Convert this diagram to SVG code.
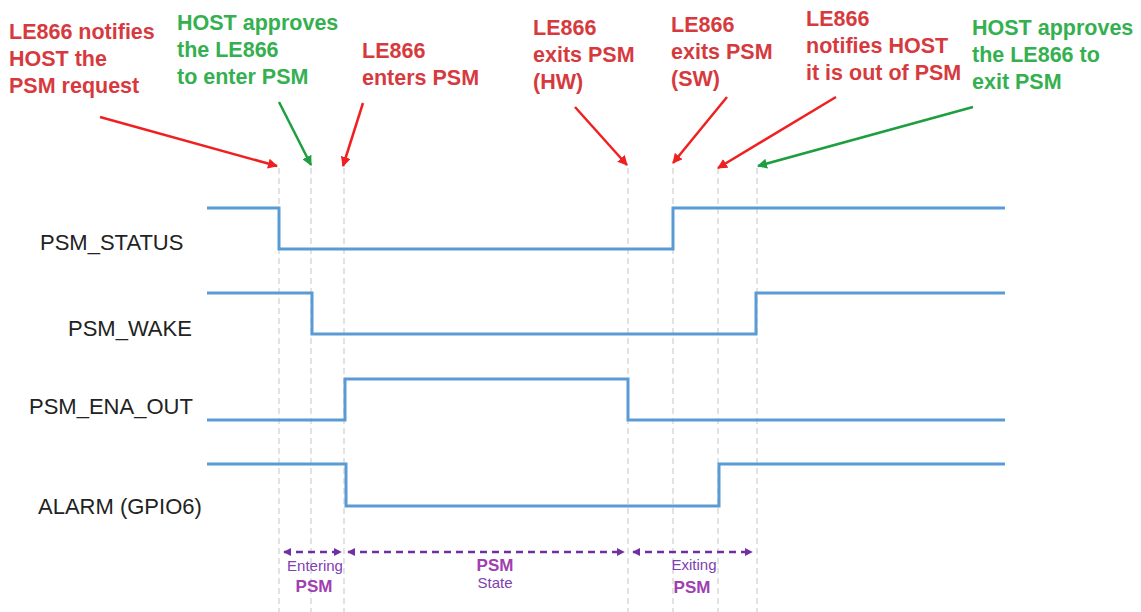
<svg xmlns="http://www.w3.org/2000/svg" width="1141" height="612" viewBox="0 0 1141 612">
<style>
.ann{font-family:"Liberation Sans",Arial,sans-serif;font-weight:bold;font-size:21.5px}
.red{fill:#D63A3E}
.grn{fill:#35B050}
.sig{font-family:"Liberation Sans",Arial,sans-serif;font-size:22px;fill:#222}
.wave{fill:none;stroke:#5B9BD5;stroke-width:3;stroke-linejoin:miter}
.grid{stroke:#CFCFCF;stroke-width:1.2;stroke-dasharray:6 4}
.ra{stroke:#F02020;stroke-width:2.5;marker-end:url(#ahr)}
.ga{stroke:#1E9E40;stroke-width:2.5;marker-end:url(#ahg)}
.ph{stroke:#7030A0;stroke-width:2.5;stroke-dasharray:7 5;marker-start:url(#ahp);marker-end:url(#ahp)}
.ptxt{font-family:"Liberation Sans",Arial,sans-serif;font-size:15px;fill:#8040B0;text-anchor:middle}
.pbig{font-family:"Liberation Sans",Arial,sans-serif;font-size:17px;font-weight:bold;fill:#A040B0;text-anchor:middle}
</style>
<defs>
<marker id="ahr" viewBox="0 0 10 10" refX="9" refY="5" markerWidth="4" markerHeight="4" orient="auto" markerUnits="strokeWidth"><path d="M0,0 L10,5 L0,10 z" fill="#F02020"/></marker>
<marker id="ahg" viewBox="0 0 10 10" refX="9" refY="5" markerWidth="4" markerHeight="4" orient="auto" markerUnits="strokeWidth"><path d="M0,0 L10,5 L0,10 z" fill="#1E9E40"/></marker>
<marker id="ahp" viewBox="0 0 10 10" refX="9" refY="5" markerWidth="3.2" markerHeight="3.2" orient="auto-start-reverse" markerUnits="strokeWidth"><path d="M0,0 L10,5 L0,10 z" fill="#7030A0"/></marker>
</defs>
<rect width="1141" height="612" fill="#fff"/>

<g id="gridlines">
<line class="grid" x1="279" y1="168" x2="279" y2="612"/>
<line class="grid" x1="311" y1="168" x2="311" y2="612"/>
<line class="grid" x1="344" y1="168" x2="344" y2="612"/>
<line class="grid" x1="628" y1="168" x2="628" y2="612"/>
<line class="grid" x1="673" y1="168" x2="673" y2="612"/>
<line class="grid" x1="718" y1="168" x2="718" y2="612"/>
<line class="grid" x1="757" y1="168" x2="757" y2="612"/>
</g>

<g id="sig-psm-status">
<text class="sig" x="40" y="250">PSM_STATUS</text>
<path class="wave" d="M207,208 H279 V249 H673 V208 H1005"/>
</g>
<g id="sig-psm-wake">
<text class="sig" x="68" y="336">PSM_WAKE</text>
<path class="wave" d="M207,293 H312 V334 H756 V293 H1005"/>
</g>
<g id="sig-psm-ena-out">
<text class="sig" x="29" y="414">PSM_ENA_OUT</text>
<path class="wave" d="M207,420 H345 V379 H628 V420 H1005"/>
</g>
<g id="sig-alarm">
<text class="sig" x="38" y="514">ALARM (GPIO6)</text>
<path class="wave" d="M207,464 H346 V506 H719 V464 H1005"/>
</g>

<g id="ann-1"><text class="ann red"><tspan x="9" y="39">LE866 notifies</tspan><tspan x="9" y="66">HOST the</tspan><tspan x="9" y="93">PSM request</tspan></text></g>
<g id="ann-2"><text class="ann grn"><tspan x="177" y="30">HOST approves</tspan><tspan x="177" y="57">the LE866</tspan><tspan x="177" y="84">to enter PSM</tspan></text></g>
<g id="ann-3"><text class="ann red"><tspan x="362" y="58">LE866</tspan><tspan x="362" y="85">enters PSM</tspan></text></g>
<g id="ann-4"><text class="ann red"><tspan x="533" y="35">LE866</tspan><tspan x="533" y="62">exits PSM</tspan><tspan x="533" y="89">(HW)</tspan></text></g>
<g id="ann-5"><text class="ann red"><tspan x="671" y="32">LE866</tspan><tspan x="671" y="59">exits PSM</tspan><tspan x="671" y="86">(SW)</tspan></text></g>
<g id="ann-6"><text class="ann red"><tspan x="806" y="26">LE866</tspan><tspan x="806" y="53">notifies HOST</tspan><tspan x="806" y="80">it is out of PSM</tspan></text></g>
<g id="ann-7"><text class="ann grn"><tspan x="972" y="35">HOST approves</tspan><tspan x="972" y="62">the LE866 to</tspan><tspan x="972" y="89">exit PSM</tspan></text></g>

<g id="phases">
<g id="phase-entering"><text class="ptxt" x="315" y="571">Entering</text><text class="pbig" x="314" y="592">PSM</text></g>
<g id="phase-state"><text class="pbig" x="495" y="571">PSM</text><text class="ptxt" x="495" y="588">State</text></g>
<g id="phase-exiting"><text class="ptxt" x="694" y="570">Exiting</text><text class="pbig" x="692" y="593">PSM</text></g>
</g>

<g id="connectors">
<line class="ra" x1="100" y1="117" x2="277" y2="166"/>
<line class="ga" x1="279" y1="102" x2="311" y2="165"/>
<line class="ra" x1="363" y1="103" x2="343" y2="166"/>
<line class="ra" x1="575" y1="107" x2="627" y2="165"/>
<line class="ra" x1="727" y1="97" x2="673" y2="163"/>
<line class="ra" x1="836" y1="97" x2="718" y2="168"/>
<line class="ga" x1="973" y1="107" x2="758" y2="166"/>
<line class="ph" x1="284" y1="552" x2="341" y2="552"/>
<line class="ph" x1="348" y1="552" x2="624" y2="552"/>
<line class="ph" x1="633" y1="552" x2="752" y2="552"/>
</g>
</svg>
